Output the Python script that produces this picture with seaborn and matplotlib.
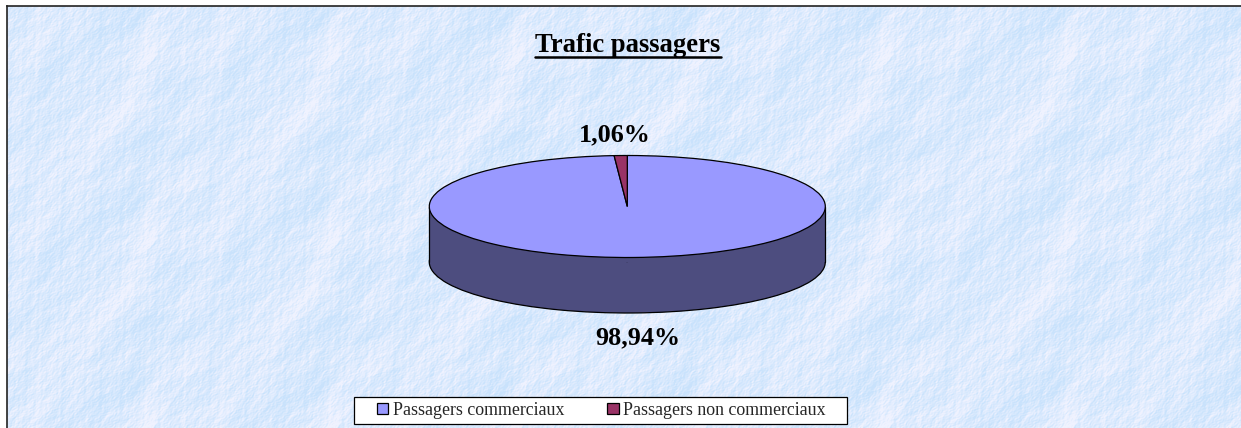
import numpy as np
import matplotlib.pyplot as plt
import seaborn as sns
from matplotlib.patches import Rectangle

categories = ["Passagers commerciaux", "Passagers non commerciaux"]
values = [98.94, 1.06]
value_labels = ["98,94%", "1,06%"]
top_colors = ["#9999FF", "#993366"]
side_colors = ["#4D4D7F", "#4D1933"]
title = "Trafic passagers"

W, H = 1241, 428

sns.set_theme(style="white")
plt.rcParams["font.family"] = ["Liberation Serif", "DejaVu Serif"]

fig = plt.figure(figsize=(W / 100, H / 100), dpi=100, facecolor="white")


def px_axes(x0, y0, x1, y1):
    # axes placed with pixel coordinates measured from the top left corner
    return fig.add_axes([x0 / W, 1 - y1 / H, (x1 - x0) / W, (y1 - y0) / H])


def paper_texture(size=184):
    # mottled tile made of periodic waves, repeated like the wallpaper
    yy, xx = np.mgrid[0:size, 0:size] * 2 * np.pi / size
    tile = np.zeros((size, size))
    waves = [(1, 1, 0.3, 0.8), (2, 1, 1.9, 0.6), (1, 3, 4.1, 0.6), (3, 2, 2.2, 0.6),
             (5, 2, 0.7, 0.5), (4, 7, 3.3, 0.5), (9, 3, 5.2, 0.5), (8, 11, 1.1, 0.5),
             (17, 6, 2.7, 0.6), (13, 19, 4.6, 0.6), (23, 8, 0.2, 0.6), (19, 27, 3.8, 0.6),
             (31, 11, 1.4, 0.6), (29, 37, 5.7, 0.6), (43, 14, 2.9, 0.6), (41, 47, 0.9, 0.6),
             (53, 23, 3.1, 0.5), (37, 59, 1.7, 0.5), (61, 41, 4.9, 0.5), (47, 67, 2.4, 0.5)]
    for fx, fy, ph, amp in waves:
        # whole wave numbers in the inner term keep the tile seamless
        tile += amp * np.sin(fx * xx + fy * yy + ph + 1.6 * np.sin(fy // 3 * xx - fx // 3 * yy + ph))
    lo, hi = np.percentile(tile, [2, 98])
    tile = np.clip((tile - lo) / (hi - lo), 0, 1)
    return np.tile(tile, (H // size + 1, W // size + 1))[:H, :W]


# background, only the left and top edges carry a line
bg = px_axes(7, 6, W, H)
low = np.array([0.79, 0.89, 0.99])
high = np.array([0.94, 0.95, 1.00])
tex = paper_texture()[: H - 6, : W - 7, None]
bg.imshow(low + (high - low) * tex, aspect="auto", interpolation="bilinear")
bg.set_xticks([])
bg.set_yticks([])
for name, spine in bg.spines.items():
    spine.set_visible(name in ("left", "top"))
    spine.set_color("#222222")
    spine.set_linewidth(1.2)

fig.text(627.5 / W, 1 - 52.5 / H, title, ha="center", va="baseline", fontsize=19.2,
         fontweight="bold", color="black")
fig.add_artist(plt.Line2D([534.5 / W, 721 / W], [1 - 56.5 / H, 1 - 56.5 / H], color="black", lw=1.8))

# flattened pie: 1 unit is the radius, y is squeezed by the axes shape
cx, cy = 627.3, 206.5
rx_px, ry_px = 198.0, 51.0
depth_px = 55.5
m = 6  # margin in pixels so the outlines are not clipped
ax = px_axes(cx - rx_px - m, cy - ry_px - m, cx + rx_px + m, cy + ry_px + depth_px + m)
ax.patch.set_alpha(0)
depth = depth_px / ry_px
edge = dict(edgecolor="black", linewidth=0.9)
ax.pie(values, colors=side_colors, startangle=90, counterclock=False, radius=1, center=(0, -depth),
       wedgeprops=edge)
ax.add_patch(Rectangle((-1, -depth), 2, depth, facecolor=side_colors[0], edgecolor="none", zorder=2))
ax.plot([-1, -1], [-depth, 0], color="black", lw=0.9, zorder=3)
ax.plot([1, 1], [-depth, 0], color="black", lw=0.9, zorder=3)
ax.pie(values, colors=top_colors, startangle=90, counterclock=False, radius=1, center=(0, 0),
       wedgeprops=dict(zorder=4, **edge))
ax.set_aspect("auto")
ax.set_xlim(-1 - m / rx_px, 1 + m / rx_px)
ax.set_ylim(-depth - 1 - m / ry_px, 1 + m / ry_px)
ax.set_frame_on(False)

fig.text(638 / W, 1 - 344 / H, value_labels[0], ha="center", va="baseline", fontsize=18.8,
         fontweight="bold", color="black")
fig.text(615 / W, 1 - 141 / H, value_labels[1], ha="center", va="baseline", fontsize=18.8,
         fontweight="bold", color="black")

# legend box
fig.add_artist(Rectangle((354 / W, 1 - 424 / H), 493 / W, 27 / H, transform=fig.transFigure,
                         facecolor="white", edgecolor="black", lw=0.9, zorder=5))
handles = [Rectangle((0, 0), 1, 1, facecolor=c, edgecolor="black", lw=0.9) for c in top_colors]
leg = fig.legend(handles, categories, ncol=2, loc="center", bbox_to_anchor=(601.5 / W, 1 - 410.5 / H),
                 frameon=False, fontsize=12.9, handlelength=0.62, handleheight=0.62, handletextpad=0.25,
                 columnspacing=2.4, borderpad=0)
leg.set_zorder(6)

fig.savefig("out.png", dpi=100, facecolor="white")
